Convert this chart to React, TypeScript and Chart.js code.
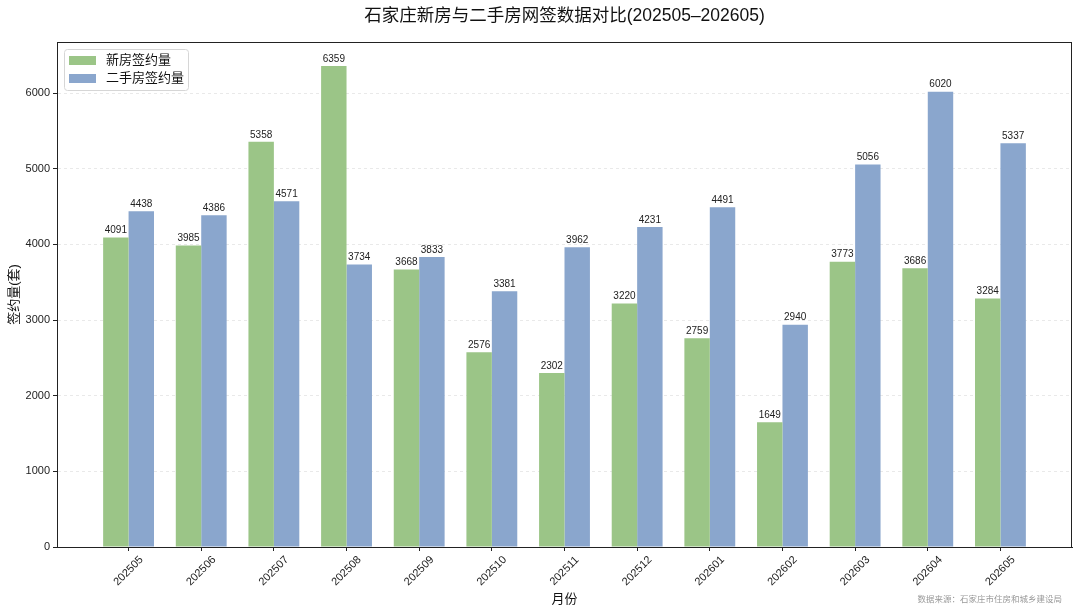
import { Chart, registerables } from "chart.js";
import { useEffect, useRef } from "react";

Chart.register(...registerables);

const months = [
    "202505", "202506", "202507", "202508", "202509", "202510", "202511",
    "202512", "202601", "202602", "202603", "202604", "202605"
];
const newHomes = [4091, 3985, 5358, 6359, 3668, 2576, 2302, 3220, 2759, 1649, 3773, 3686, 3284];
const resale = [4438, 4386, 4571, 3734, 3833, 3381, 3962, 4231, 4491, 2940, 5056, 6020, 5337];
const seriesNames = ["新房签约量", "二手房签约量"];
const yTicks = [0, 1000, 2000, 3000, 4000, 5000, 6000];

const FONT = "'Liberation Sans', 'Noto Sans CJK SC', sans-serif";
const GREEN = "#9bc587";
const BLUE = "#8aa6cd";

// draws title, axis titles, frame, legend, value labels and centred rotated month labels
const decorations = {
    id: "decorations",
    afterDatasetsDraw(chart: any) {
        const ctx = chart.ctx;
        const area = chart.chartArea;
        const xs = chart.scales.x;
        ctx.save();

        // value labels
        ctx.fillStyle = "#222";
        ctx.font = `10px ${FONT}`;
        ctx.textAlign = "center";
        ctx.textBaseline = "bottom";
        chart.data.datasets.forEach((ds: any, di: number) => {
            chart.getDatasetMeta(di).data.forEach((bar: any, i: number) => {
                ctx.fillText(String(ds.data[i].y), bar.x, bar.y - 2);
            });
        });

        // frame
        ctx.strokeStyle = "#222";
        ctx.lineWidth = 1;
        ctx.strokeRect(area.left + 0.5, area.top + 0.5, area.right - area.left - 1, area.bottom - area.top);

        // legend
        const lx = area.left + 7;
        const ly = area.top + 7;
        ctx.fillStyle = "rgba(255,255,255,0.85)";
        ctx.strokeStyle = "#d6d6d6";
        ctx.beginPath();
        ctx.roundRect(lx + 0.5, ly + 0.5, 124, 41, 3);
        ctx.fill();
        ctx.stroke();
        ctx.font = `13px ${FONT}`;
        ctx.textAlign = "left";
        ctx.textBaseline = "middle";
        [GREEN, BLUE].forEach((c, i) => {
            const cy = ly + 11 + i * 18;
            ctx.fillStyle = c;
            ctx.fillRect(lx + 5, cy - 4, 27, 9);
            ctx.fillStyle = "#111";
            ctx.fillText(seriesNames[i], lx + 42, cy);
        });

        // month labels
        ctx.font = `11px ${FONT}`;
        ctx.fillStyle = "#222";
        ctx.textAlign = "center";
        ctx.textBaseline = "middle";
        months.forEach((m, i) => {
            const px = xs.getPixelForValue(i);
            ctx.save();
            ctx.translate(px, area.bottom + 24);
            ctx.rotate(-Math.PI / 4);
            ctx.fillText(m, 0, 0);
            ctx.restore();
        });

        // titles
        ctx.fillStyle = "#111";
        ctx.font = `17.5px ${FONT}`;
        ctx.fillText("石家庄新房与二手房网签数据对比(202505–202605)", (area.left + area.right) / 2, 16);

        ctx.font = `13px ${FONT}`;
        ctx.fillText("月份", (area.left + area.right) / 2, 599);

        ctx.save();
        ctx.translate(14, (area.top + area.bottom) / 2);
        ctx.rotate(-Math.PI / 2);
        ctx.fillText("签约量(套)", 0, 0);
        ctx.restore();

        ctx.fillStyle = "#999";
        ctx.font = `8.5px ${FONT}`;
        ctx.textAlign = "right";
        ctx.fillText("数据来源：石家庄市住房和城乡建设局", area.right - 10, 600);

        ctx.restore();
    }
};

export default function App() {
    const chartRef = useRef<HTMLCanvasElement | null>(null);

    useEffect(() => {
        if (!chartRef.current) return;
        const chartInstance = new Chart(chartRef.current, {
            type: "bar",
            data: {
                datasets: [
                    {
                        label: seriesNames[0],
                        data: newHomes.map((v, i) => ({ x: i, y: v })),
                        backgroundColor: GREEN,
                        borderWidth: 0,
                        categoryPercentage: 0.7,
                        barPercentage: 1.0
                    },
                    {
                        label: seriesNames[1],
                        data: resale.map((v, i) => ({ x: i, y: v })),
                        backgroundColor: BLUE,
                        borderWidth: 0,
                        categoryPercentage: 0.7,
                        barPercentage: 1.0
                    }
                ]
            },
            options: {
                animation: false,
                responsive: true,
                maintainAspectRatio: false,
                layout: { padding: { top: 42, right: 8, left: 0, bottom: 0 } },
                plugins: {
                    title: { display: false },
                    tooltip: { enabled: false },
                    legend: { display: false }
                },
                scales: {
                    x: {
                        type: "linear",
                        min: -0.985,
                        max: 12.985,
                        offset: false,
                        afterFit: (s: any) => { s.height = 67; },
                        afterBuildTicks: (s: any) => {
                            s.ticks = months.map((_, i) => ({ value: i }));
                        },
                        ticks: {
                            color: "rgba(0,0,0,0)",
                            maxRotation: 0,
                            minRotation: 0,
                            autoSkip: false,
                            callback: () => ""
                        },
                        grid: {
                            offset: false,
                            drawOnChartArea: false,
                            drawTicks: true,
                            tickLength: 4,
                            tickColor: "#222",
                            color: "#222"
                        },
                        border: { display: true, color: "#222" }
                    },
                    y: {
                        min: 0,
                        max: 6359 * 1.05,
                        afterFit: (s: any) => { s.width = 57; },
                        afterBuildTicks: (s: any) => {
                            s.ticks = yTicks.map((v) => ({ value: v }));
                        },
                        ticks: {
                            color: "#222",
                            font: { family: FONT, size: 11 },
                            padding: 3,
                            callback: (v: any) => String(v)
                        },
                        grid: {
                            color: "rgba(200,200,200,0.4)",
                            tickColor: "#222",
                            tickLength: 4,
                            tickBorderDash: [],
                            drawTicks: true
                        },
                        border: { display: true, color: "#222", dash: [3, 3] }
                    }
                }
            },
            plugins: [decorations]
        });
        return () => {
            chartInstance.destroy();
        };
    }, []);

    return (
        <div style={{ position: "fixed", left: 0, top: 0, width: 1080, height: 614, background: "#fff" }}>
            <canvas ref={chartRef} />
        </div>
    );
}
